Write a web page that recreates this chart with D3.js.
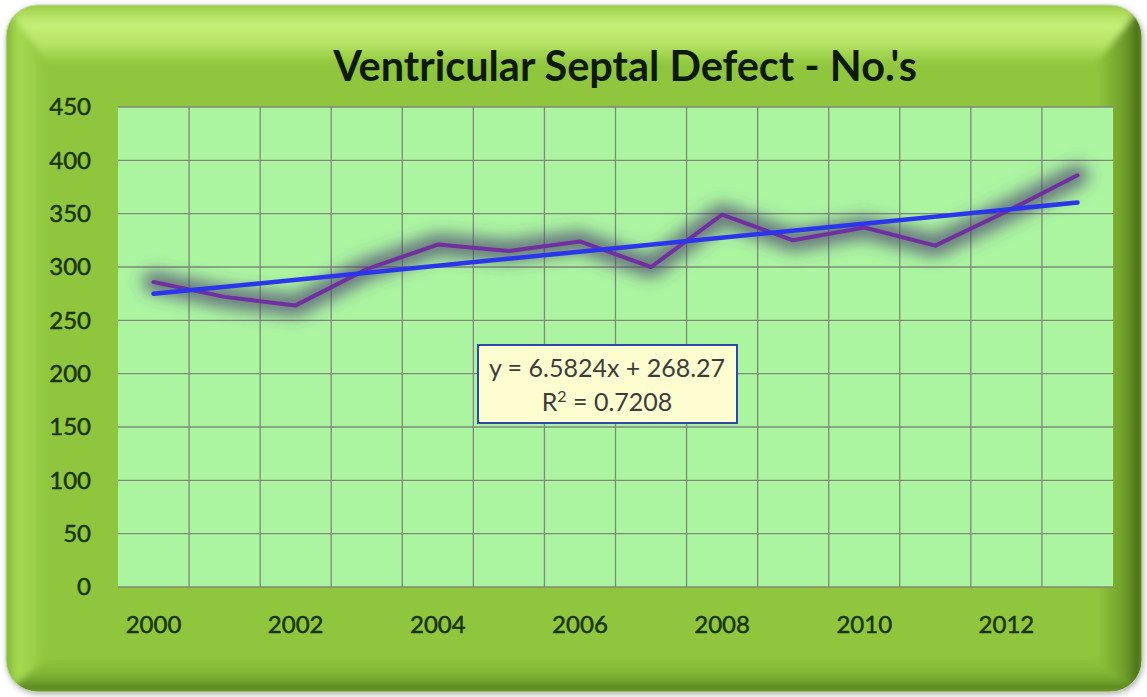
<!DOCTYPE html>
<html><head><meta charset="utf-8">
<script src="https://cdn.jsdelivr.net/npm/d3@7"></script>
<style>body{margin:0;background:#fff}svg{display:block}</style></head>
<body><svg id="c" width="1147" height="697"></svg>
<script>
// ---- data ----
const years = [2000,2001,2002,2003,2004,2005,2006,2007,2008,2009,2010,2011,2012,2013];
const values = [286,272,264,298,321,315,324,300,349,325,337,320,352,386];
const yTicks = [0,50,100,150,200,250,300,350,400,450];
const xTickLabels = [2000,2002,2004,2006,2008,2010,2012];
const trendSlope = 6.5824;
const trendIntercept = 268.27;
const rSquared = "0.7208";
const titleText = "Ventricular Septal Defect - No.'s";

const svg = d3.select("#c");
const defs = svg.append("defs");

function lg(id, x1,y1,x2,y2, stops){
  const g = defs.append("linearGradient").attr("id",id)
    .attr("x1",x1).attr("y1",y1).attr("x2",x2).attr("y2",y2);
  stops.forEach(s=>g.append("stop").attr("offset",s[0]).attr("stop-color",s[1]));
}
lg("gTop",0,0,0,1,[[0,"#9ccf48"],[0.35,"#c6f07a"],[0.7,"#b4e262"],[1,"#94ca40"]]);
lg("gLeft",0,0,1,0,[[0,"#7aac30"],[0.25,"#a6da52"],[1,"#90c63e"]]);
lg("gRight",0,0,1,0,[[0,"#8fc43c"],[0.6,"#6e9e2a"],[0.9,"#4f7418"],[1,"#2c3c10"]]);
lg("gBot",0,0,0,1,[[0,"#8fc43c"],[0.5,"#7eb232"],[0.85,"#5f8c22"],[1,"#4a6a18"]]);

const glow = defs.append("filter").attr("id","glow")
  .attr("x","-20%").attr("y","-80%").attr("width","140%").attr("height","260%");
glow.append("feGaussianBlur").attr("stdDeviation",8);

const soft = defs.append("filter").attr("id","soft");
soft.append("feGaussianBlur").attr("stdDeviation",3);

defs.append("clipPath").attr("id","frameClip").append("rect")
  .attr("x",6).attr("y",5).attr("width",1136).attr("height",687).attr("rx",32);

// ---- frame ----
const L=6,T=5,R=1142,B=692, iL=46,iT=62,iR=1098,iB=660;
svg.append("rect").attr("x",L+1).attr("y",T+2).attr("width",R-L).attr("height",B-T)
  .attr("rx",32).attr("fill","#555").attr("opacity",0.5).attr("filter","url(#soft)");
const fr = svg.append("g").attr("clip-path","url(#frameClip)");
fr.append("rect").attr("x",L).attr("y",T).attr("width",R-L).attr("height",B-T).attr("fill","#90c63e");
const bev = fr.append("g").attr("filter","url(#soft)");
bev.append("polygon").attr("points",`${L},${T} ${R},${T} ${iR},${iT} ${iL},${iT}`).attr("fill","url(#gTop)");
bev.append("polygon").attr("points",`${L},${T} ${iL},${iT} ${iL},${iB} ${L},${B}`).attr("fill","url(#gLeft)");
bev.append("polygon").attr("points",`${R},${T} ${R},${B} ${iR},${iB} ${iR},${iT}`).attr("fill","url(#gRight)");
bev.append("polygon").attr("points",`${L},${B} ${iL},${iB} ${iR},${iB} ${R},${B}`).attr("fill","url(#gBot)");
fr.append("rect").attr("x",iL+6).attr("y",iT+6).attr("width",iR-iL-12).attr("height",iB-iT-12)
  .attr("fill","#90c63e").attr("filter","url(#soft)");
svg.append("rect").attr("x",L).attr("y",T).attr("width",R-L).attr("height",B-T)
  .attr("rx",32).attr("fill","none").attr("stroke","#c8d8b8").attr("stroke-width",1);

// ---- scales ----
const x = d3.scaleBand().domain(years).range([118,1113]).padding(0);
const y = d3.scaleLinear().domain([0,450]).range([587,107]);
const cx = d => x(d) + x.bandwidth()/2;

svg.append("rect").attr("x",118).attr("y",107).attr("width",1113-118).attr("height",587-107)
  .attr("fill","#abf5a1");

// gridlines
const grid = svg.append("g").attr("stroke","#80887a").attr("stroke-width",1.3);
grid.selectAll("line.h").data(yTicks).join("line").attr("class","h")
  .attr("x1",118).attr("x2",1113).attr("y1",d=>y(d)).attr("y2",d=>y(d));
grid.selectAll("line.v").data(years.slice(1)).join("line").attr("class","v")
  .attr("x1",d=>x(d)).attr("x2",d=>x(d)).attr("y1",107).attr("y2",587);

// axes
const yAxis = svg.append("g").attr("transform","translate(118,0)")
  .call(d3.axisLeft(y).tickValues(yTicks).tickSize(0).tickPadding(27));
yAxis.select(".domain").remove();
yAxis.selectAll("text").attr("font-family","Lato, sans-serif").attr("font-size",24)
  .attr("fill","#1a3410").attr("stroke","#1a3410").attr("stroke-width",0.5);

const xAxis = svg.append("g").attr("transform","translate(0,587)")
  .call(d3.axisBottom(x).tickValues(xTickLabels).tickSize(0));
xAxis.select(".domain").remove();
xAxis.selectAll("text").attr("font-family","Lato, sans-serif").attr("font-size",24)
  .attr("fill","#1a3410").attr("stroke","#1a3410").attr("stroke-width",0.5)
  .attr("y",46).attr("dy",null);

// data line with glow
const line = d3.line().x((d,i)=>cx(years[i])).y(d=>y(d));
svg.append("path").datum(values).attr("d",line).attr("fill","none")
  .attr("stroke","#4a4070").attr("stroke-opacity",0.7).attr("stroke-width",22)
  .attr("stroke-linejoin","round").attr("stroke-linecap","round").attr("filter","url(#glow)");
svg.append("path").datum(values).attr("d",line).attr("fill","none")
  .attr("stroke","#7030a0").attr("stroke-width",4)
  .attr("stroke-linejoin","round").attr("stroke-linecap","round");

// trend line
const trendPts = [1, years.length].map(i => [cx(years[i-1]), y(trendIntercept + trendSlope*i)]);
svg.append("path").datum(trendPts).attr("d",d3.line()).attr("fill","none")
  .attr("stroke","#2a35ec").attr("stroke-width",4.5).attr("stroke-linecap","round");

// equation box
const eq = svg.append("g");
eq.append("rect").attr("x",478).attr("y",345).attr("width",259).attr("height",78)
  .attr("fill","#fdfdd0").attr("stroke","#2e48b0").attr("stroke-width",2);
const eqText = eq.append("text").attr("font-family","Lato, sans-serif").attr("font-size",25)
  .attr("fill","#3c3c3c").attr("text-anchor","middle");
eqText.append("tspan").attr("x",607).attr("y",377)
  .text(`y = ${trendSlope}x + ${trendIntercept}`);
const l2 = eqText.append("tspan").attr("x",607).attr("y",411);
l2.append("tspan").text("R");
l2.append("tspan").attr("font-size",16).attr("dy",-9).text("2");
l2.append("tspan").attr("dy",9).text(` = ${rSquared}`);

// title
const title = svg.append("text").attr("x",625).attr("y",81).attr("text-anchor","middle")
  .attr("font-family","Lato, sans-serif").attr("font-weight","bold").attr("font-size",40)
  .attr("fill","#0e1a08").text(titleText);
const w = title.node().getComputedTextLength();
title.attr("font-size", 40*584/w);
</script></body></html>
